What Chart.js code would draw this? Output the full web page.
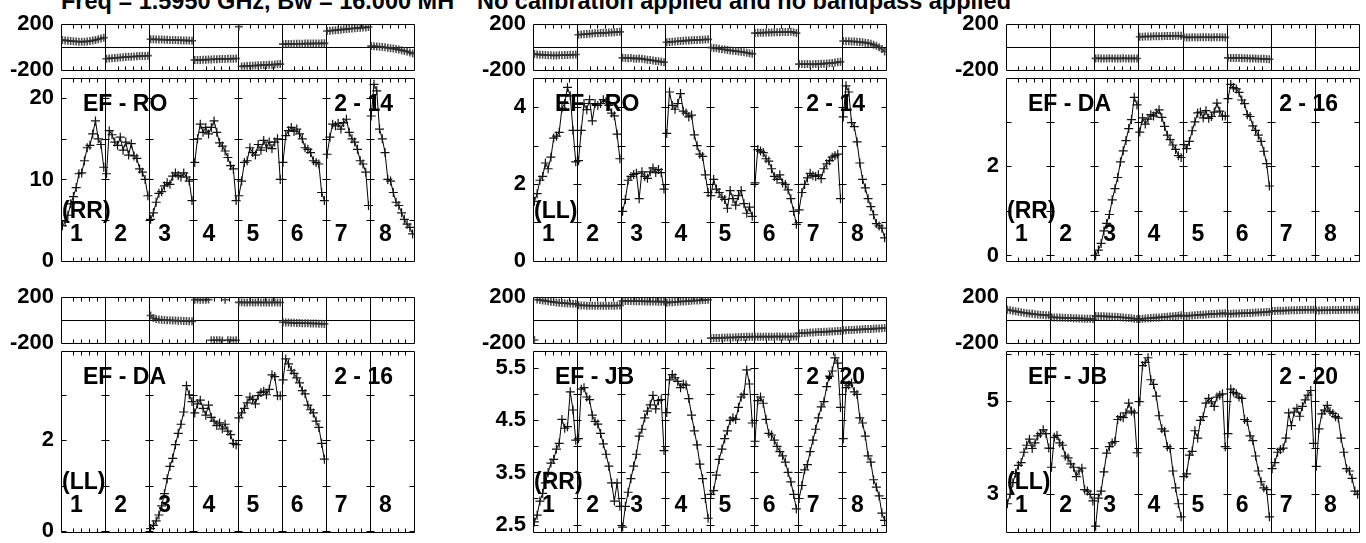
<!DOCTYPE html>
<html>
<head>
<meta charset="utf-8">
<script src="https://cdn.jsdelivr.net/npm/chart.js@4.4.1/dist/chart.umd.min.js"></script>
<style>
  body { margin: 0; background: #fff; width: 1366px; height: 543px; overflow: hidden; position: relative; }
  canvas { position: absolute; }
  .hdr { position: absolute; top: -10px; font: bold 23.5px "Liberation Sans"; line-height: 1; white-space: nowrap; color: #000; }
</style>
</head>
<body>
<div class="hdr" style="left:61px">Freq = 1.5950 GHz, Bw = 16.000 MH</div>
<div class="hdr" style="left:477px">No calibration applied and no bandpass applied</div>
<script>
// 8 IFs x 16 channels, amplitude and phase per baseline / polarisation
var nChan = 16;
var ifNames = ['1', '2', '3', '4', '5', '6', '7', '8'];
var chanTickOffsets = [5, 7.8, 10.6, 13.4];

var ampRoRR = [
  [4.3, 4.8, 5.6, 7.0, 7.9, 9.0, 10.7, 10.8, 12.3, 13.9, 14.2, 15.6, 17.2, 15.0, 14.3, 11.5],
  [10.7, 16.0, 15.5, 14.6, 14.2, 15.2, 13.6, 14.6, 13.0, 14.4, 12.9, 12.6, 11.3, 10.9, 10.0, 8.0],
  [5.1, 5.9, 7.2, 8.3, 8.5, 9.2, 9.6, 9.4, 10.4, 10.8, 10.5, 10.3, 10.8, 10.3, 9.8, 7.4],
  [12.1, 15.0, 16.8, 15.8, 16.4, 15.6, 16.4, 17.2, 15.8, 14.5, 14.1, 13.5, 12.7, 11.7, 11.3, 7.4],
  [8.0, 9.8, 12.1, 12.3, 13.9, 13.3, 13.0, 14.3, 13.6, 14.8, 13.9, 14.6, 13.8, 14.6, 15.0, 10.0],
  [12.1, 15.4, 16.0, 16.4, 15.9, 16.2, 15.6, 15.0, 13.9, 13.7, 13.3, 12.3, 12.1, 11.9, 8.4, 7.4],
  [13.1, 15.2, 16.8, 16.6, 16.9, 16.2, 17.0, 17.4, 15.8, 15.0, 14.6, 13.7, 12.3, 11.9, 10.9, 6.8],
  [17.8, 21.7, 20.9, 16.2, 15.0, 13.3, 10.0, 9.8, 8.4, 7.2, 6.8, 5.9, 5.1, 4.5, 4.1, 3.3]
];
var phsRoRR = [
  [62, 58, 55, 52, 50, 48, 47, 46, 47, 49, 52, 56, 62, 68, 75, 82],
  [-103, -100, -98, -96, -94, -92, -90, -88, -86, -85, -83, -82, -80, -79, -78, -76],
  [68, 67, 66, 66, 65, 64, 63, 62, 62, 61, 60, 59, 58, 57, 56, 55],
  [-115, -114, -113, -112, -111, -110, -109, -108, -107, -106, -105, -105, -104, -103, -102, -101],
  [179, -170, -168, -167, -165, -164, -162, -161, -160, -158, -157, -156, -155, -153, -152, -150],
  [25, 26, 27, 27, 28, 28, 29, 29, 30, 30, 30, 31, 31, 31, 32, 32],
  [140, 143, 145, 148, 150, 152, 155, 157, 160, 162, 164, 166, 168, 170, 172, 175],
  [8, 6, 4, 2, 0, -3, -6, -10, -14, -18, -23, -28, -34, -40, -48, -58]
];

var ampRoLL = [
  [1.55, 1.75, 2.1, 2.2, 2.55, 2.4, 2.7, 3.2, 3.25, 3.35, 3.98, 4.1, 4.52, 4.3, 3.4, 2.58],
  [2.61, 3.4, 4.1, 3.94, 4.2, 3.65, 4.1, 4.05, 4.1, 4.2, 4.15, 4.05, 3.85, 3.78, 3.3, 2.66],
  [1.29, 1.6, 2.1, 2.2, 2.25, 2.28, 1.62, 2.32, 2.2, 2.15, 2.32, 2.42, 2.3, 2.38, 2.3, 1.87],
  [3.32, 4.4, 4.05, 3.95, 4.1, 4.36, 3.9, 3.85, 3.75, 3.8, 3.28, 3.0, 2.78, 2.72, 2.24, 1.78],
  [1.7, 2.12, 1.87, 1.78, 1.66, 1.6, 1.37, 1.83, 1.62, 1.45, 1.7, 1.83, 1.49, 1.24, 1.4, 1.16],
  [2.03, 2.9, 2.86, 2.82, 2.66, 2.6, 2.4, 2.2, 2.12, 2.24, 2.03, 1.99, 1.85, 1.62, 1.29, 0.95],
  [1.33, 1.78, 1.99, 2.16, 2.28, 2.22, 2.2, 2.24, 2.14, 2.4, 2.53, 2.61, 2.7, 2.74, 2.78, 1.62],
  [3.75, 4.56, 4.4, 3.6, 3.5, 3.1, 2.55, 2.12, 1.9, 1.62, 1.41, 1.2, 0.97, 0.91, 0.85, 0.6]
];
var phsRoLL = [
  [-62, -65, -67, -69, -71, -72, -73, -74, -74, -73, -72, -71, -70, -69, -68, -66],
  [108, 110, 112, 114, 116, 118, 120, 121, 122, 124, 125, 127, 128, 130, 131, 133],
  [-95, -96, -98, -97, -100, -102, -100, -104, -108, -112, -115, -118, -122, -126, -130, -134],
  [42, 44, 46, 48, 50, 52, 54, 56, 58, 60, 61, 62, 63, 64, 66, 67],
  [-5, -8, -12, -15, -20, -22, -26, -30, -33, -36, -40, -42, -46, -50, -55, -60],
  [122, 124, 125, 126, 127, 128, 128, 129, 130, 130, 131, 131, 132, 133, 130, 122],
  [-150, -150, -151, -150, -151, -152, -150, -149, -148, -146, -144, -142, -140, -137, -134, -130],
  [52, 51, 50, 49, 48, 46, 44, 41, 38, 34, 28, 20, 10, -2, -18, -40]
];

var ampDaRR = [
  null, null,
  [0.0, 0.12, 0.27, 0.55, 0.72, 0.92, 1.25, 1.5, 1.75, 2.1, 2.35, 2.58, 2.85, 3.05, 3.55, 3.38],
  [2.77, 3.09, 2.95, 3.06, 3.16, 3.13, 3.2, 3.27, 3.1, 2.9, 2.7, 2.6, 2.48, 2.38, 2.24, 2.2],
  [2.49, 2.4, 2.56, 2.8, 3.0, 3.2, 3.22, 3.09, 3.25, 3.08, 3.12, 3.22, 3.42, 3.24, 3.13, 3.13],
  [3.52, 3.84, 3.77, 3.74, 3.66, 3.49, 3.41, 3.16, 3.12, 2.91, 2.81, 2.7, 2.56, 2.34, 2.06, 1.56],
  null, null
];
var phsDaRR = [
  null, null,
  [-100, -99, -100, -101, -100, -99, -100, -100, -101, -100, -99, -100, -101, -100, -100, -101],
  [90, 91, 92, 92, 93, 94, 94, 95, 95, 96, 96, 97, 97, 98, 98, 99],
  [85, 84, 84, 85, 85, 84, 85, 86, 85, 85, 84, 85, 86, 85, 85, 84],
  [-95, -96, -96, -97, -97, -98, -98, -99, -100, -100, -101, -102, -103, -104, -106, -108],
  null, null
];

var ampDaLL = [
  null, null,
  [0.05, 0.12, 0.22, 0.35, 0.55, 0.82, 1.15, 1.42, 1.6, 1.9, 2.15, 2.35, 2.62, 3.2, 3.0, 2.85],
  [2.6, 2.8, 2.88, 2.7, 2.55, 2.77, 2.5, 2.42, 2.32, 2.38, 2.25, 2.35, 2.2, 2.12, 1.93, 1.9],
  [2.49, 2.6, 2.7, 2.82, 2.95, 2.9, 2.8, 2.98, 3.05, 3.08, 3.0, 3.12, 3.44, 3.4, 2.98, 2.98],
  [3.33, 3.79, 3.68, 3.54, 3.47, 3.37, 3.26, 3.09, 3.02, 2.77, 2.67, 2.6, 2.42, 2.28, 1.93, 1.58],
  null, null
];
var phsDaLL = [
  null, null,
  [40, 18, 8, 4, 2, 0, -2, -3, -4, -5, -6, -7, -8, -9, -10, -12],
  [178, 179, 178, 177, 178, 179, -178, -178, -177, -178, -179, 178, -177, -178, -179, -178],
  [155, 155, 154, 154, 155, 154, 154, 155, 154, 154, 153, 154, 154, 155, 154, 154],
  [-20, -22, -23, -24, -25, -26, -27, -28, -28, -29, -30, -31, -31, -32, -33, -34],
  null, null
];

var ampJbRR = [
  [2.55, 2.68, 2.95, 3.1, 3.3, 3.5, 3.68, 3.75, 3.95, 4.06, 4.52, 4.35, 4.38, 5.05, 4.7, 4.12],
  [4.15, 5.1, 5.13, 4.95, 4.9, 4.6, 4.48, 4.43, 4.25, 4.05, 3.85, 3.62, 3.3, 2.95, 3.3, 2.85],
  [2.45, 2.85, 3.12, 3.38, 3.62, 3.85, 4.2, 4.33, 4.55, 4.68, 4.8, 4.98, 4.72, 4.88, 4.9, 3.92],
  [4.65, 5.28, 5.38, 5.32, 5.25, 5.13, 5.2, 5.18, 4.92, 4.6, 4.3, 4.03, 3.66, 3.38, 3.0, 2.62],
  [3.08, 3.15, 3.45, 3.75, 3.95, 4.15, 4.3, 4.5, 4.55, 4.52, 4.75, 4.95, 5.0, 5.47, 5.2, 4.45],
  [4.1, 4.88, 4.95, 4.83, 4.52, 4.25, 4.22, 4.12, 4.0, 3.9, 3.82, 3.7, 3.5, 3.32, 3.08, 2.8],
  [3.0, 3.25, 3.55, 3.65, 3.9, 4.12, 4.33, 4.55, 4.76, 4.86, 5.15, 5.35, 5.45, 5.7, 5.6, 4.75],
  [4.15, 5.13, 5.18, 5.22, 5.05, 5.0, 4.55, 4.45, 4.2, 3.82, 3.7, 3.36, 3.22, 3.05, 2.72, 2.58]
];
var phsJbRR = [
  [-176, 179, 176, 172, 168, 164, 160, 157, 154, 151, 149, 147, 145, 144, 143, 142],
  [130, 128, 127, 126, 126, 125, 125, 125, 125, 126, 126, 125, 125, 126, 127, 127],
  [168, 167, 166, 166, 165, 165, 164, 164, 163, 163, 162, 162, 162, 161, 161, 160],
  [152, 155, 156, 158, 160, 162, 163, 165, 166, 168, 170, 171, 173, 175, 176, 178],
  [-159, -158, -157, -157, -156, -155, -154, -153, -153, -152, -151, -150, -149, -148, -147, -146],
  [-147, -146, -147, -146, -146, -147, -146, -146, -145, -146, -146, -145, -146, -146, -145, -145],
  [-116, -115, -113, -112, -110, -109, -108, -106, -105, -104, -102, -101, -100, -98, -97, -96],
  [-91, -90, -88, -87, -86, -84, -83, -82, -80, -79, -78, -76, -75, -74, -72, -71]
];

var ampJbLL = [
  [2.8, 3.0, 3.25, 3.45, 3.62, 3.68, 3.9, 4.05, 4.18, 3.98, 4.1, 4.25, 4.3, 4.38, 4.3, 3.99],
  [3.58, 4.22, 4.26, 4.1, 4.05, 3.82, 3.78, 3.65, 3.58, 3.38, 3.5, 3.56, 3.1, 3.07, 3.0, 2.86],
  [2.32, 2.92, 3.07, 3.48, 3.88, 4.02, 4.1, 4.13, 4.6, 4.66, 4.64, 4.74, 4.95, 4.78, 4.74, 3.89],
  [4.98, 5.75, 5.82, 5.92, 5.45, 5.35, 5.1, 4.68, 4.4, 4.35, 4.02, 3.98, 3.5, 3.14, 2.8, 2.52],
  [3.38, 3.44, 3.84, 3.92, 4.36, 4.2, 4.58, 4.66, 4.95, 5.05, 4.98, 4.88, 5.08, 5.12, 5.15, 4.02],
  [4.3, 5.25, 5.18, 5.15, 5.08, 5.05, 4.6, 4.56, 4.25, 4.15, 3.82, 3.5, 3.27, 3.14, 3.1, 2.52],
  [3.55, 3.68, 3.9, 3.96, 3.99, 4.2, 4.74, 4.47, 4.76, 4.84, 4.67, 4.88, 5.02, 5.12, 5.22, 4.09],
  [3.6, 4.4, 4.72, 4.8, 4.9, 4.77, 4.73, 4.66, 4.63, 4.2, 3.9, 3.55, 3.5, 3.34, 3.07, 3.0]
];
var phsJbLL = [
  [91, 86, 81, 76, 72, 68, 64, 60, 57, 54, 51, 48, 46, 44, 42, 41],
  [24, 23, 22, 21, 20, 19, 18, 17, 16, 15, 14, 13, 12, 11, 10, 9],
  [34, 33, 33, 32, 31, 30, 29, 28, 26, 24, 22, 20, 18, 15, 12, 9],
  [9, 11, 13, 15, 17, 19, 21, 23, 25, 27, 29, 31, 33, 36, 38, 41],
  [34, 36, 38, 40, 42, 44, 45, 47, 48, 50, 52, 53, 55, 56, 58, 59],
  [54, 55, 56, 57, 58, 59, 60, 61, 62, 64, 65, 66, 67, 68, 70, 71],
  [79, 80, 81, 82, 82, 83, 84, 85, 86, 86, 87, 88, 89, 90, 90, 91],
  [84, 84, 85, 85, 86, 86, 87, 87, 88, 88, 89, 89, 90, 90, 91, 91]
];

var panels = [
  { base: 'EF - RO', pol: '(RR)', scan: '2 - 14', amp: ampRoRR, phs: phsRoRR, col: 0, row: 0,
    yMin: 0, yMax: 22.45, yTicks: [0, 5, 10, 15, 20], yLabels: [0, 10, 20] },
  { base: 'EF - RO', pol: '(LL)', scan: '2 - 14', amp: ampRoLL, phs: phsRoLL, col: 1, row: 0,
    yMin: 0, yMax: 4.76, yTicks: [0, 1, 2, 3, 4], yLabels: [0, 2, 4] },
  { base: 'EF - DA', pol: '(RR)', scan: '2 - 16', amp: ampDaRR, phs: phsDaRR, col: 2, row: 0,
    yMin: -0.12, yMax: 3.98, yTicks: [0, 1, 2, 3], yLabels: [0, 2] },
  { base: 'EF - DA', pol: '(LL)', scan: '2 - 16', amp: ampDaLL, phs: phsDaLL, col: 0, row: 1,
    yMin: -0.02, yMax: 3.96, yTicks: [0, 1, 2, 3], yLabels: [0, 2] },
  { base: 'EF - JB', pol: '(RR)', scan: '2 - 20', amp: ampJbRR, phs: phsJbRR, col: 1, row: 1,
    yMin: 2.36, yMax: 5.83, yTicks: [2.5, 3, 3.5, 4, 4.5, 5, 5.5], yLabels: [2.5, 3.5, 4.5, 5.5] },
  { base: 'EF - JB', pol: '(LL)', scan: '2 - 20', amp: ampJbLL, phs: phsJbLL, col: 2, row: 1,
    yMin: 2.2, yMax: 6.06, yTicks: [3, 4, 5, 6], yLabels: [3, 5] }
];

// page layout of the plot boxes
var colLeft = [61, 533, 1006];
var boxWidth = 353;
var rows = [{ top: 20, split: 74, bottom: 265 }, { top: 293, split: 347, bottom: 536 }];
var PADL = 70, PADR = 6, PADT = 16, PADB = 16;
var labelFont = 'bold 23px "Liberation Sans"';

var framePlugin = {
  id: 'frame',
  beforeDatasetsDraw: function(chart, args, o) {
    var ctx = chart.ctx, a = chart.chartArea, x = chart.scales.x, y = chart.scales.y;
    var px = function(v) { return Math.round(v) + 0.5; };
    var L = px(a.left), R = px(a.right), T = px(a.top), B = px(a.bottom);
    ctx.save();
    ctx.strokeStyle = '#000';
    ctx.lineWidth = 1;
    ctx.beginPath();
    ctx.rect(L, T, R - L, B - T);
    for (var k = 1; k < ifNames.length; k++) {
      var xb = px(x.getPixelForValue(k * nChan + 0.5));
      ctx.moveTo(xb, T); ctx.lineTo(xb, B);
    }
    for (var i = 0; i < ifNames.length; i++) {
      chanTickOffsets.forEach(function(off) {
        var xt = px(x.getPixelForValue(i * nChan + off));
        ctx.moveTo(xt, T); ctx.lineTo(xt, T + 4);
        ctx.moveTo(xt, B); ctx.lineTo(xt, B - 4);
      });
    }
    if (o.zeroLine) {
      var y0 = px(y.getPixelForValue(0));
      ctx.moveTo(L, y0); ctx.lineTo(R, y0);
    }
    if (o.yTicks) {
      o.yTicks.forEach(function(v) {
        var yt = px(y.getPixelForValue(v));
        if (yt < T + 1 || yt > B - 1) return;
        ctx.moveTo(L, yt); ctx.lineTo(L + 5, yt);
        ctx.moveTo(R, yt); ctx.lineTo(R - 5, yt);
        for (var k = 1; k < ifNames.length; k++) {
          var xb = px(x.getPixelForValue(k * nChan + 0.5));
          ctx.moveTo(xb - 4, yt); ctx.lineTo(xb + 4, yt);
        }
      });
    }
    ctx.stroke();
    ctx.restore();
  },
  afterDatasetsDraw: function(chart, args, o) {
    if (!o.text) return;
    var ctx = chart.ctx, a = chart.chartArea, x = chart.scales.x;
    var h = a.bottom - a.top;
    ctx.save();
    ctx.fillStyle = '#000';
    ctx.font = labelFont;
    ctx.textBaseline = 'alphabetic';
    ctx.textAlign = 'left';
    ctx.fillText(o.text.base, a.left + 22, a.top + 0.182 * h);
    ctx.fillText(o.text.pol, a.left + 1, a.top + 0.765 * h);
    ctx.textAlign = 'right';
    ctx.fillText(o.text.scan, a.right - 21, a.top + 0.182 * h);
    ctx.textAlign = 'center';
    ifNames.forEach(function(n, i) {
      ctx.fillText(n, x.getPixelForValue(i * nChan + 0.5 + 0.35 * nChan), a.top + 0.89 * h);
    });
    ctx.restore();
  }
};

function wrapSegment(ctx) {
  return Math.abs(ctx.p1.parsed.y - ctx.p0.parsed.y) > 180 ? 'rgba(0,0,0,0)' : undefined;
}

function buildDatasets(series, isPhase) {
  var out = [];
  series.forEach(function(vals, i) {
    if (!vals) return;
    out.push({
      data: vals.map(function(v, c) { return { x: i * nChan + c + 1, y: v }; }),
      borderColor: '#000',
      borderWidth: 1,
      pointStyle: 'cross',
      pointRadius: isPhase ? 4 : 4.5,
      pointBorderColor: isPhase ? 'rgba(45,45,45,0.85)' : '#111',
      pointBorderWidth: isPhase ? 1.6 : 1.2,
      fill: false,
      tension: 0,
      segment: isPhase ? { borderColor: wrapSegment } : undefined
    });
  });
  return out;
}

function addCanvas(left, top, right, bottom) {
  var c = document.createElement('canvas');
  var w = right - left + PADL + PADR, h = bottom - top + PADT + PADB;
  c.width = w; c.height = h;
  c.style.left = (left - PADL) + 'px';
  c.style.top = (top - PADT) + 'px';
  c.style.width = w + 'px';
  c.style.height = h + 'px';
  document.body.appendChild(c);
  return c;
}

function makeChart(canvas, datasets, yMin, yMax, ticks, labels, frameOpts) {
  return new Chart(canvas.getContext('2d'), {
    type: 'line',
    data: { datasets: datasets },
    options: {
      responsive: false,
      animation: false,
      devicePixelRatio: 1,
      layout: { padding: { left: 0, right: PADR, top: PADT, bottom: PADB } },
      plugins: {
        legend: { display: false },
        tooltip: { enabled: false },
        frame: frameOpts
      },
      scales: {
        x: { type: 'linear', min: 0.5, max: ifNames.length * nChan + 0.5, display: false },
        y: {
          type: 'linear',
          min: yMin,
          max: yMax,
          afterFit: function(s) { s.width = PADL; },
          afterBuildTicks: function(s) { s.ticks = ticks.map(function(v) { return { value: v }; }); },
          ticks: {
            autoSkip: false,
            color: '#000',
            padding: 7,
            font: { family: 'Liberation Sans', size: 22, weight: 'bold' },
            callback: function(v) { return labels.indexOf(v) >= 0 ? String(v) : ''; }
          },
          grid: { display: false, drawTicks: false },
          border: { display: false }
        }
      }
    },
    plugins: [framePlugin]
  });
}

panels.forEach(function(p) {
  var left = colLeft[p.col], right = left + boxWidth, r = rows[p.row];
  var cPhase = addCanvas(left, r.top, right, r.split);
  makeChart(cPhase, buildDatasets(p.phs, true), -200, 200, [-200, 200], [-200, 200], { zeroLine: true });
  var cAmp = addCanvas(left, r.split, right, r.bottom);
  makeChart(cAmp, buildDatasets(p.amp, false), p.yMin, p.yMax, p.yTicks, p.yLabels,
    { yTicks: p.yTicks, text: { base: p.base, pol: p.pol, scan: p.scan } });
});
</script>
</body>
</html>
